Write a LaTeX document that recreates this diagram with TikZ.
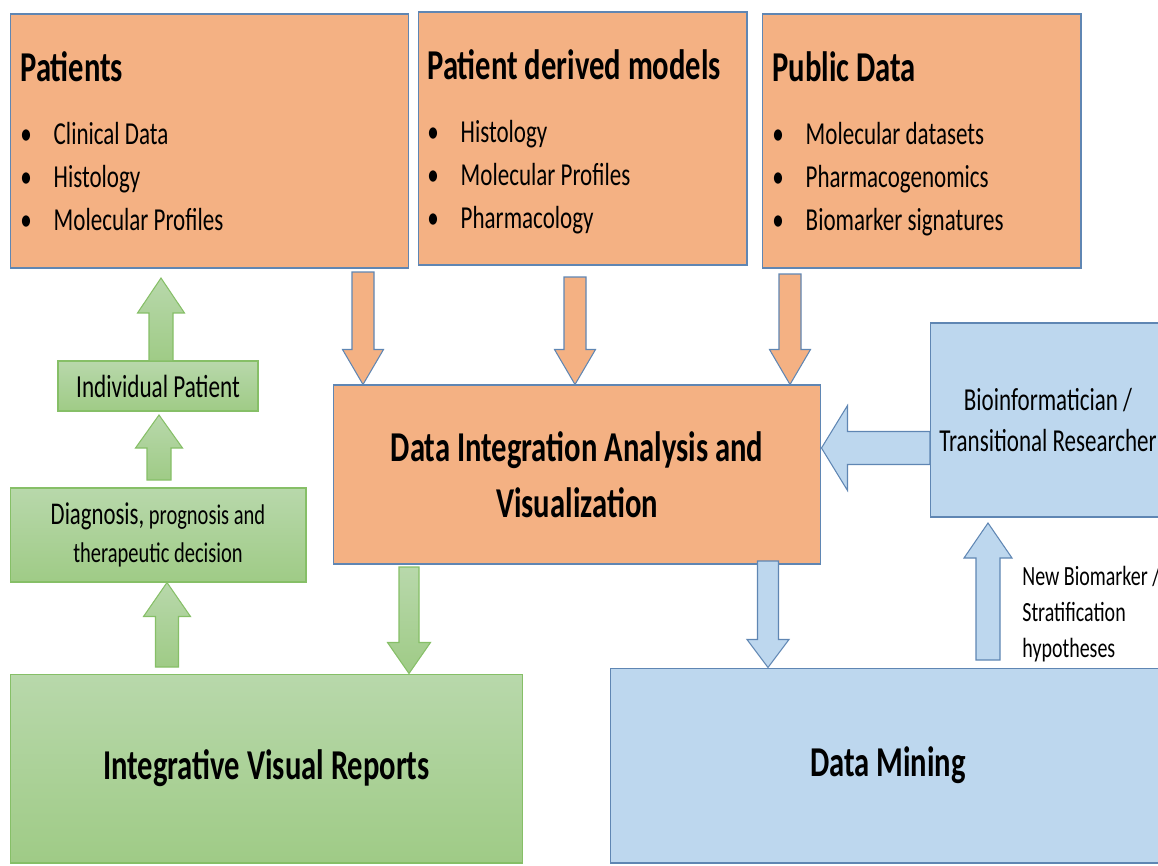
\documentclass[tikz,border=0pt]{standalone}
\usepackage{fontspec}
\setmainfont[FakeStretch=0.72]{Carlito}
\usetikzlibrary{calc}
\definecolor{orangefill}{HTML}{F4B183}
\definecolor{bluefill}{HTML}{BDD7EE}
\definecolor{boxline}{HTML}{5F86B3}
\definecolor{greentop}{HTML}{B8D8AB}
\definecolor{greenbot}{HTML}{9FCB86}
\definecolor{greenline}{HTML}{86BF67}

% block arrow: [style]{from}{to}{half shaft}{half head}{head length}
\newcommand{\blockarrow}[6][]{%
  \path ($(#3)!#6!(#2)$) coordinate (ab);
  \draw[#1] ($(#2)!#4!90:(#3)$) -- ($(ab)!#4!90:(#3)$) -- ($(ab)!#5!90:(#3)$) -- (#3)
    -- ($(ab)!#5!-90:(#3)$) -- ($(ab)!#4!-90:(#3)$) -- ($(#2)!#4!-90:(#3)$) -- cycle;
}
\newcommand{\bigbold}{\bfseries\fontsize{24.2}{31.7}\selectfont}

\begin{document}
\begin{tikzpicture}[x=0.02cm,y=-0.02cm,
  box/.style={draw, inner sep=0pt, line width=0.6pt},
  orangebox/.style={box, draw=boxline, fill=orangefill},
  bluebox/.style={box, draw=boxline, fill=bluefill},
  greenbox/.style={box, draw=greenline, top color=greentop, bottom color=greenbot},
  orangearrow/.style={draw=boxline, line width=0.6pt, fill=orangefill},
  bluearrow/.style={draw=boxline, line width=0.6pt, fill=bluefill},
  greenarrow/.style={draw=greenline, line width=0.6pt, top color=greentop, bottom color=greenbot},
  title/.style={anchor=base west, inner sep=0pt, font=\bfseries\fontsize{24.2}{28}\selectfont},
  item/.style={anchor=base west, inner sep=0pt, font=\fontsize{18.2}{22}\selectfont,
    execute at begin node={\makebox[19pt][l]{\textbullet}}},
  note/.style={inner sep=0pt, align=left, font=\fontsize{15.8}{20.4}\selectfont}]
\useasboundingbox (0,0) rectangle (1158,865);
\clip (0,0) rectangle (1158,865);

% sources
\node[orangebox, minimum width=7.98cm, minimum height=5.08cm] (patients) at (209.5,141) {};
\node[orangebox, minimum width=6.58cm, minimum height=5.06cm] (models) at (582.5,138.5) {};
\node[orangebox, minimum width=6.38cm, minimum height=5.08cm] (public) at (921.5,141) {};
\node[title] (patients-title) at (20,82) {Patients};
\node[title] (models-title) at (427,80) {Patient derived models};
\node[title] (public-title) at (772,82) {Public Data};
\foreach \txt [count=\i] in {Clinical Data, Histology, Molecular Profiles}
  \node[item] (patients-\i) at (20,{101+43*\i}) {\txt};
\foreach \txt [count=\i] in {Histology, Molecular Profiles, Pharmacology}
  \node[item] (models-\i) at (427,{99+43*\i}) {\txt};
\foreach \txt [count=\i] in {Molecular datasets, Pharmacogenomics, Biomarker signatures}
  \node[item] (public-\i) at (772,{101+43*\i}) {\txt};

% analysis
\node[orangebox, minimum width=9.76cm, minimum height=3.58cm, align=center, font=\bigbold] (dia) at (577,474.5)
  {Data Integration Analysis and\\Visualization};
\node[bluebox, minimum width=4.72cm, minimum height=3.88cm, align=center,
  font=\fontsize{18.2}{23.8}\selectfont] (bio) at (1048,420) {Bioinformatician /\\Transitional Researcher};
\node[bluebox, minimum width=11.12cm, minimum height=3.9cm, font=\bigbold] (mining) at (888,765.5) {Data Mining};
\node[note, anchor=west] (hyp) at (1022,614) {New Biomarker /\\Stratification\\hypotheses};

% reports
\node[greenbox, minimum width=10.26cm, minimum height=3.78cm, font=\bigbold] (reports) at (266.5,768.5)
  {Integrative Visual Reports};
\node[greenbox, minimum width=5.92cm, minimum height=1.88cm, align=center,
  font=\fontsize{16.2}{22}\selectfont] (decision) at (158,535)
  {{\fontsize{18}{22}\selectfont Diagnosis,} prognosis and\\therapeutic decision};
\node[greenbox, minimum width=4cm, minimum height=1cm, font=\fontsize{18.3}{21}\selectfont] (individual) at (158,386)
  {Individual Patient};

% arrows
\coordinate (o1) at (363,272);
\coordinate (o2) at (575,277);
\coordinate (o3) at (790,274);
\coordinate (g1) at (409,567);
\coordinate (b1) at (768,561);
\coordinate (b2) at (930,448);
\coordinate (b3) at (988,660);
\coordinate (b3t) at (988,523);
\coordinate (u1) at (167,667);
\coordinate (u2) at (159,480);
\coordinate (u2t) at (159,415);
\coordinate (u3) at (161,361);
\coordinate (u3t) at (161,278);
\blockarrow[orangearrow]{o1}{o1 |- dia.north}{0.22cm}{0.41cm}{0.70cm}
\blockarrow[orangearrow]{o2}{o2 |- dia.north}{0.22cm}{0.41cm}{0.70cm}
\blockarrow[orangearrow]{o3}{o3 |- dia.north}{0.22cm}{0.41cm}{0.70cm}
\blockarrow[greenarrow]{g1}{g1 |- reports.north}{0.20cm}{0.43cm}{0.62cm}
\blockarrow[bluearrow]{b1}{b1 |- mining.north}{0.21cm}{0.42cm}{0.56cm}
\blockarrow[bluearrow]{b2}{b2 -| dia.east}{0.33cm}{0.85cm}{0.52cm}
\blockarrow[bluearrow]{b3}{b3t}{0.24cm}{0.48cm}{0.70cm}
\blockarrow[greenarrow]{u1}{u1 |- decision.south}{0.23cm}{0.47cm}{0.68cm}
\blockarrow[greenarrow]{u2}{u2t}{0.24cm}{0.47cm}{0.66cm}
\blockarrow[greenarrow]{u3}{u3t}{0.24cm}{0.47cm}{0.70cm}
\end{tikzpicture}
\end{document}
